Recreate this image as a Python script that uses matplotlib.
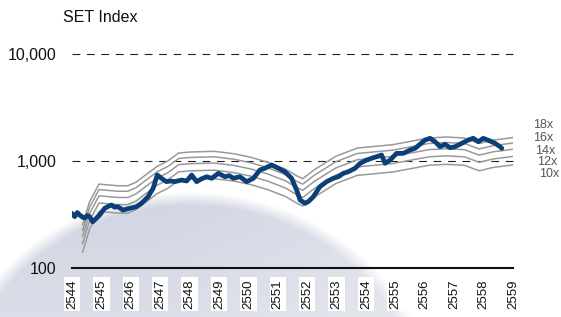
"""SET Index with P/E band lines (10x-18x), log scale."""

import numpy as np
import matplotlib

matplotlib.use("Agg")
import matplotlib.pyplot as plt

plt.rcParams["font.family"] = ["Liberation Sans", "DejaVu Sans"]

# --- data (Thai Buddhist-era years) ---
years = list(range(2544, 2560))
year_labels = [str(y) for y in years]

# SET index
set_t = [
    2544.00, 2544.09, 2544.18, 2544.26, 2544.35, 2544.43, 2544.52, 2544.60,
    2544.70, 2544.77, 2544.85, 2544.94, 2545.11, 2545.22, 2545.34, 2545.45,
    2545.56, 2545.73, 2545.85, 2545.96, 2546.19, 2546.36, 2546.59, 2546.76,
    2546.90, 2547.04, 2547.21, 2547.35, 2547.49, 2547.73, 2547.90, 2548.07,
    2548.24, 2548.40, 2548.58, 2548.75, 2548.98, 2549.20, 2549.35, 2549.49,
    2549.71, 2549.94, 2550.17, 2550.39, 2550.56, 2550.79, 2551.02, 2551.24,
    2551.47, 2551.64, 2551.76, 2551.93, 2552.05, 2552.21, 2552.43, 2552.66,
    2552.89, 2553.06, 2553.23, 2553.40, 2553.63, 2553.80, 2554.02, 2554.19,
    2554.36, 2554.53, 2554.65, 2554.82, 2555.04, 2555.27, 2555.50, 2555.67,
    2556.01, 2556.18, 2556.35, 2556.52, 2556.69, 2556.86, 2557.03, 2557.26,
    2557.48, 2557.65, 2557.82, 2557.99, 2558.22, 2558.39, 2558.56, 2558.62,
]
set_index = [
    324, 302, 330, 313, 300, 293, 310, 302,
    270, 281, 295, 313, 361, 375, 388, 370,
    374, 348, 355, 361, 374, 402, 464, 556,
    740, 689, 641, 650, 641, 664, 650, 740,
    641, 680, 713, 689, 767, 713, 730, 689,
    713, 641, 689, 824, 855, 918, 855, 794,
    689, 535, 432, 402, 420, 464, 575, 641,
    689, 713, 767, 794, 855, 951, 1021, 1060,
    1097, 1138, 951, 1021, 1180, 1180, 1267, 1314,
    1571, 1630, 1514, 1361, 1432, 1331, 1361, 1463,
    1571, 1630, 1514, 1630, 1538, 1463, 1361, 1314,
]

# earnings per share of the index; band = multiple * eps
eps_t = [
    2544.36, 2544.60, 2544.92, 2545.56, 2545.90, 2546.17, 2546.90, 2547.26,
    2547.63, 2548.00, 2548.84, 2549.50, 2550.10, 2550.66, 2551.27, 2551.63,
    2551.85, 2552.24, 2552.97, 2553.70, 2554.92, 2556.13, 2556.74, 2557.35,
    2557.85, 2558.32, 2559.00,
]
eps = [
    14.1, 23.2, 33.8, 32.6, 32.6, 35.1, 49.6, 55.6,
    66.0, 67.4, 68.4, 65.0, 60.0, 54.0, 46.5, 40.5,
    38.0, 46.0, 61.4, 73.4, 79.0, 91.1, 93.1, 91.1,
    81.0, 87.0, 92.0,
]
pe_multiples = [10, 12, 14, 16, 18]

y_ticks = [100, 1000, 10000]
y_tick_labels = ["100", "1,000", "10,000"]

# --- figure ---
W, H = 561, 317
fig = plt.figure(figsize=(W / 100, H / 100), dpi=100)

# soft shaded disc behind the chart (pixel grid, soft edge)
bg = fig.add_axes([0, 0, 1, 1], zorder=0)
bg.set_xlim(0, W)
bg.set_ylim(H, 0)
bg.axis("off")
gy, gx = np.mgrid[0:H, 0:W] + 0.5
r = np.sqrt(((gx - 190) / 248.0) ** 2 + ((gy - 420) / 228.0) ** 2)
alpha = np.clip((1.0 - r) / 0.06, 0, 1)
shade = np.clip((gy - 195) / 200.0, 0, 1) * 0.6 + np.clip((gx - 150) / 300.0, 0, 1) * 0.4
top_c = np.array([0.82, 0.835, 0.885])
low_c = np.array([0.93, 0.935, 0.955])
rgb = top_c[None, None, :] * (1 - shade[..., None]) + low_c[None, None, :] * shade[..., None]
img = np.dstack([rgb, alpha])
bg.imshow(img, extent=(0, W, H, 0), interpolation="bilinear", zorder=0)

ax = fig.add_axes([72 / W, 49 / H, 441 / W, 214 / H], zorder=1)
ax.patch.set_alpha(0)
ax.set_yscale("log")
ax.set_xlim(2544, 2559)
ax.set_ylim(100, 10000)

for y in (1000, 10000):
    ax.axhline(y, color="#222222", linewidth=0.8, linestyle=(0, (7, 6)), clip_on=False, zorder=1)

eps_arr = np.array(eps)
for m in pe_multiples:
    ax.plot(eps_t, m * eps_arr, color="#999999", linewidth=1.1, zorder=2)

ax.plot(set_t, set_index, color="#0b3f78", linewidth=3.4, solid_joinstyle="round",
        solid_capstyle="round", zorder=3)

for side in ("top", "left", "right"):
    ax.spines[side].set_visible(False)
ax.spines["bottom"].set_linewidth(1.5)
ax.spines["bottom"].set_color("#111111")

ax.set_yticks(y_ticks)
ax.set_yticklabels(y_tick_labels, fontsize=11.5, color="#111111")
ax.yaxis.set_minor_locator(matplotlib.ticker.NullLocator())
ax.tick_params(axis="y", length=0, pad=11)

ax.set_xticks(years)
ax.set_xticklabels(year_labels, rotation=90, fontsize=9.5, color="#111111")
ax.tick_params(axis="x", length=0, pad=8)
for lbl in ax.get_xticklabels():
    lbl.set_bbox(dict(facecolor="white", edgecolor="none", pad=1.5))

fig.text(63 / W, 1 - 17 / H, "SET Index", fontsize=11.5, ha="left", va="center", color="#111111")

# band labels at the right edge (12x and 10x sit tight, as in the source)
band_pos = [(533, 125, "18x"), (533, 138, "16x"), (535, 151, "14x"), (537, 162, "12x"), (539, 174, "10x")]
for px, py, txt in band_pos:
    fig.text(px / W, 1 - py / H, txt, fontsize=9, ha="left", va="center", color="#555555")

fig.savefig("out.png", dpi=100)
